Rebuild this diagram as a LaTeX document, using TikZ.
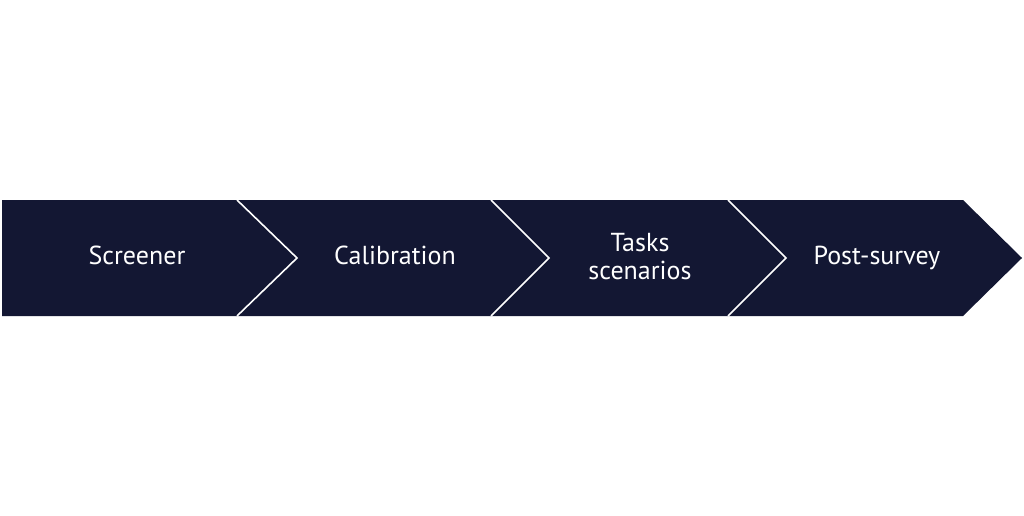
\documentclass[tikz,border=0pt]{standalone}
\usepackage{fontspec}
\setmainfont{PT Sans}
\usetikzlibrary{positioning}
\definecolor{navy}{HTML}{131733}

\begin{document}
\begin{tikzpicture}[x=1pt,y=-1pt]
			\tikzset{stage/.style = {fill=navy}}
			\tikzset{sep/.style = {draw=white, line width=1.6pt}}
			\tikzset{label/.style = {text=white, font=\fontsize{26}{28}\selectfont, align=center}}
			\useasboundingbox (0,0) rectangle (1024,516);
			% band
			\fill[stage] (2,200) -- (963,200) -- (1022,258) -- (963,316) -- (2,316) -- cycle;
			% separators
			\draw[sep] (237,200) -- (297,258) -- (237,316);
			\draw[sep] (491,200) -- (549,258) -- (491,316);
			\draw[sep] (728,200) -- (786,258) -- (728,316);
			% labels
			\node[label, anchor=base] (screener) at (137,264) {Screener};
			\node[label, anchor=base] (calib) at (395,264) {Calibration};
			\node[label] (tasks) at (640,257) {Tasks\\scenarios};
			\node[label, anchor=base] (post) at (877,264) {Post-survey};
		\end{tikzpicture}
\end{document}
